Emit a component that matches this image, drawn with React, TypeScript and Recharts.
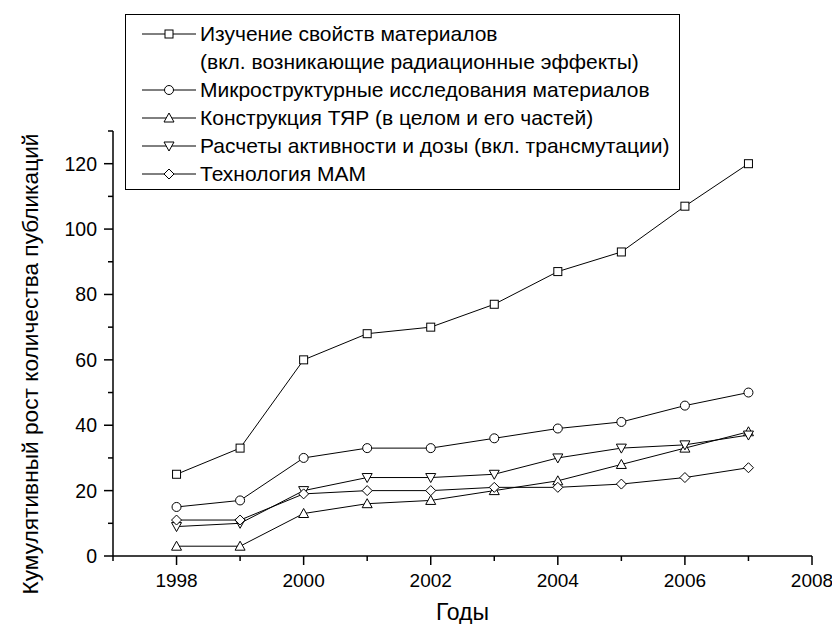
import { LineChart, Line, XAxis, YAxis, Legend } from 'recharts'

const years = [1998, 1999, 2000, 2001, 2002, 2003, 2004, 2005, 2006, 2007]
const materials = [25, 33, 60, 68, 70, 77, 87, 93, 107, 120]
const microstructure = [15, 17, 30, 33, 33, 36, 39, 41, 46, 50]
const design = [3, 3, 13, 16, 17, 20, 23, 28, 33, 38]
const activity = [9, 10, 20, 24, 24, 25, 30, 33, 34, 37]
const technology = [11, 11, 19, 20, 20, 21, 21, 22, 24, 27]

const xTicks = [1997, 1998, 1999, 2000, 2001, 2002, 2003, 2004, 2005, 2006, 2007, 2008]
const yTicks = [0, 10, 20, 30, 40, 50, 60, 70, 80, 90, 100, 110, 120, 130]

const seriesList = [
  { key: 'materials', shape: 'square', label: ['Изучение свойств материалов', '(вкл. возникающие радиационные эффекты)'] },
  { key: 'microstructure', shape: 'circle', label: ['Микроструктурные исследования материалов'] },
  { key: 'design', shape: 'up', label: ['Конструкция ТЯР (в целом и его частей)'] },
  { key: 'activity', shape: 'down', label: ['Расчеты активности и дозы (вкл. трансмутации)'] },
  { key: 'technology', shape: 'diamond', label: ['Технология МАМ'] },
]

const data = years.map((year, i) => ({
  year,
  materials: materials[i],
  microstructure: microstructure[i],
  design: design[i],
  activity: activity[i],
  technology: technology[i],
}))

const FONT = 'Arial, "Liberation Sans", sans-serif'

function Marker({ cx, cy, shape }: { cx: number; cy: number; shape: string }) {
  const p = { fill: '#fff', stroke: '#000', strokeWidth: 1 }
  if (shape === 'square') return <rect x={cx - 4} y={cy - 4} width={8} height={8} {...p} />
  if (shape === 'circle') return <circle cx={cx} cy={cy} r={4.5} {...p} />
  if (shape === 'up')
    return <polygon points={`${cx},${cy - 5} ${cx + 5},${cy + 4} ${cx - 5},${cy + 4}`} {...p} />
  if (shape === 'down')
    return <polygon points={`${cx},${cy + 5} ${cx + 5},${cy - 4} ${cx - 5},${cy - 4}`} {...p} />
  return <polygon points={`${cx},${cy - 5} ${cx + 5},${cy} ${cx},${cy + 5} ${cx - 5},${cy}`} {...p} />
}

function XTick({ x, y, payload }: any) {
  const major = payload.value % 2 === 0
  return (
    <g>
      <line x1={x} y1={y} x2={x} y2={y + (major ? 9 : 5)} stroke='#000' strokeWidth={1.5} />
      {major && (
        <text x={x} y={y + 24} textAnchor='middle' dominantBaseline='central' fontSize={19} fontFamily={FONT} fill='#000'>
          {payload.value}
        </text>
      )}
    </g>
  )
}

function YTick({ x, y, payload }: any) {
  const major = payload.value % 20 === 0
  return (
    <g>
      <line x1={x} y1={y} x2={x - (major ? 9 : 5)} y2={y} stroke='#000' strokeWidth={1.5} />
      {major && (
        <text x={x - 16} y={y} textAnchor='end' dominantBaseline='central' fontSize={19.5} fontFamily={FONT} fill='#000'>
          {payload.value}
        </text>
      )}
    </g>
  )
}

function LegendBox() {
  const rows: { shape?: string; text: string }[] = []
  seriesList.forEach((s) => {
    s.label.forEach((t, i) => rows.push({ shape: i === 0 ? s.shape : undefined, text: t }))
  })
  return (
    <div style={{ border: '1px solid #000', background: '#fff', width: 555, height: 176, padding: '5px 0 0 0', boxSizing: 'border-box', fontFamily: FONT, fontSize: 21 }}>
      {rows.map((r, i) => (
        <div key={i} style={{ height: 28, display: 'flex', alignItems: 'center' }}>
          <svg width={74} height={28} style={{ flex: 'none' }}>
            {r.shape && (
              <>
                <line x1={16} x2={70} y1={14} y2={14} stroke='#000' strokeWidth={1} />
                <Marker cx={43} cy={14} shape={r.shape} />
              </>
            )}
          </svg>
          <span style={{ whiteSpace: 'nowrap' }}>{r.text}</span>
        </div>
      ))}
    </div>
  )
}

export default function App() {
  return (
    <div style={{ position: 'absolute', left: 0, top: 0, width: 832, height: 624, background: '#fff' }}>
      <LineChart width={832} height={624} data={data} margin={{ top: 131, right: 20, bottom: 0, left: 0 }}>
        <XAxis
          dataKey='year'
          type='number'
          domain={[1997, 2008]}
          ticks={xTicks}
          interval={0}
          tickSize={0}
          tickMargin={0}
          tickLine={false}
          tick={<XTick />}
          height={68}
          axisLine={{ stroke: '#000', strokeWidth: 1.5 }}
          label={{ value: 'Годы', position: 'insideBottom', offset: 4, fontSize: 23, fontFamily: FONT, fill: '#000' }}
        />
        <YAxis
          type='number'
          domain={[0, 130]}
          ticks={yTicks}
          interval={0}
          tickSize={0}
          tickMargin={0}
          tickLine={false}
          tick={<YTick />}
          width={113}
          axisLine={{ stroke: '#000', strokeWidth: 1.5 }}
          label={{
            content: () => (
              <text
                x={30}
                y={364}
                transform='rotate(-90, 30, 364)'
                textAnchor='middle'
                dominantBaseline='central'
                fontSize={22.7}
                fontFamily={FONT}
                fill='#000'
              >
                Кумулятивный рост количества публикаций
              </text>
            ),
          }}
        />
        <Legend
          layout='vertical'
          align='center'
          verticalAlign='middle'
          wrapperStyle={{ left: 125, top: 14, width: 555, height: 176 }}
          content={() => <LegendBox />}
        />
        {seriesList.map((s) => (
          <Line
            key={s.key}
            dataKey={s.key}
            stroke='#000'
            strokeWidth={1}
            isAnimationActive={false}
            dot={(props: any) => <Marker key={`${s.key}-${props.index}`} cx={props.cx} cy={props.cy} shape={s.shape} />}
          />
        ))}
      </LineChart>
    </div>
  )
}
